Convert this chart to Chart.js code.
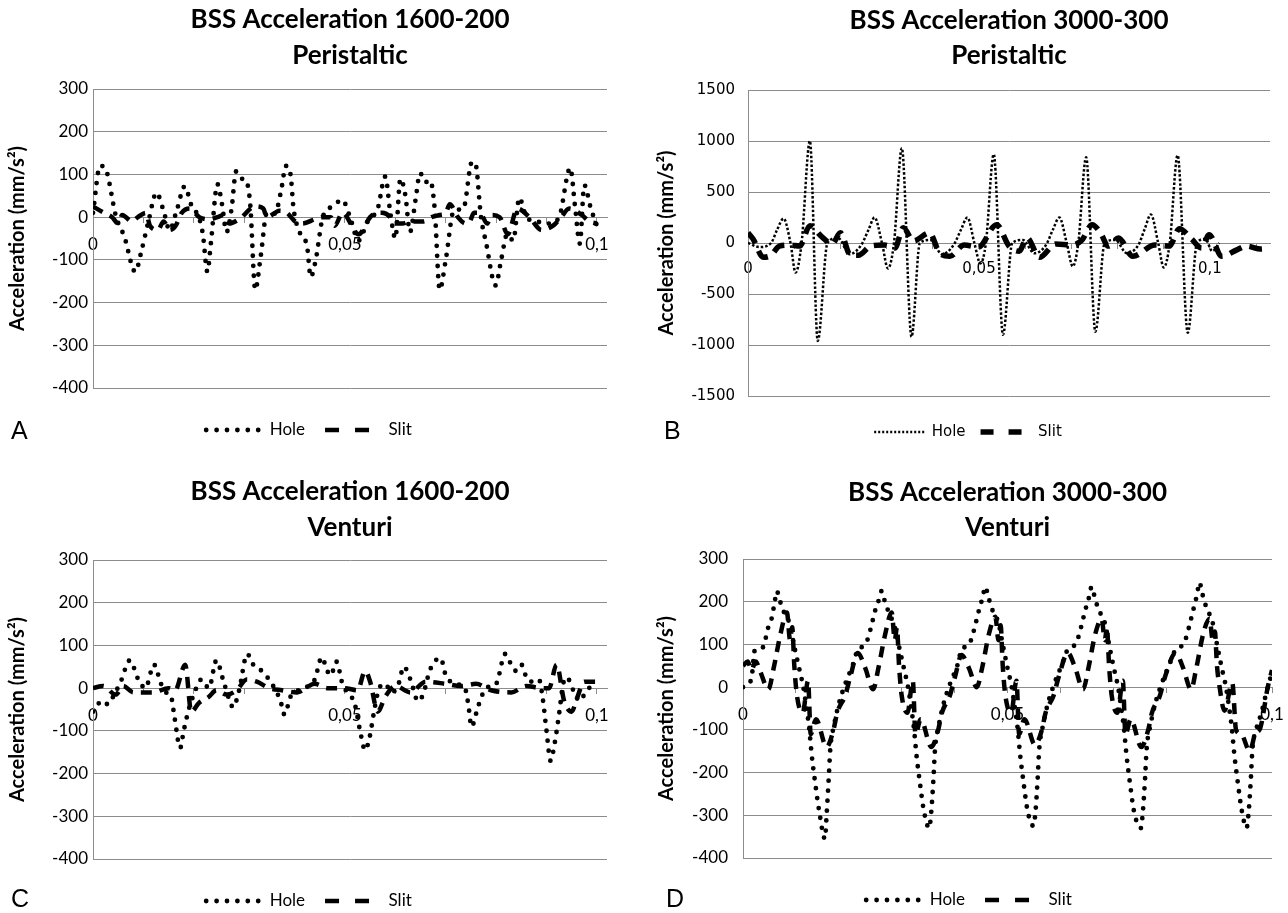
<!DOCTYPE html>
<html>
<head>
<meta charset="utf-8">
<script src="https://cdn.jsdelivr.net/npm/chart.js@4"></script>
<style>
    body { margin: 0; width: 1288px; height: 913px; overflow: hidden; background: #fff; position: relative; }
    canvas { position: absolute; }
    .tag { position: absolute; font: 25px "Liberation Sans", Arial, sans-serif; line-height: 1; color: #000; }
</style>
</head>
<body>
<canvas id="chartA" width="644" height="456" style="left:0;top:0"></canvas>
<canvas id="chartB" width="644" height="456" style="left:644px;top:1px"></canvas>
<canvas id="chartC" width="644" height="456" style="left:0;top:471px"></canvas>
<canvas id="chartD" width="644" height="456" style="left:644px;top:470px"></canvas>
<div class="tag" style="left:11px;top:418px">A</div>
<div class="tag" style="left:664px;top:418px">B</div>
<div class="tag" style="left:11px;top:886px">C</div>
<div class="tag" style="left:666px;top:886px">D</div>
<script>
// Titles
const titleA = ["BSS Acceleration 1600-200", "Peristaltic"]
const titleB = ["BSS Acceleration 3000-300", "Peristaltic"]
const titleC = ["BSS Acceleration 1600-200", "Venturi"]
const titleD = ["BSS Acceleration 3000-300", "Venturi"]
const yTitle = "Acceleration (mm/s²)"
const seriesNames = ["Hole", "Slit"]

// A - 1600-200 peristaltic (time in s, acceleration in mm/s²)
const aHoleT = [0, 0.0014, 0.0024, 0.0046, 0.0062, 0.0084, 0.0096, 0.0110, 0.0126, 0.0140, 0.0152, 0.0166, 0.0182, 0.0196, 0.0210, 0.0218, 0.0227, 0.0234, 0.0247, 0.0256, 0.0265, 0.0275, 0.0284, 0.0295, 0.0304, 0.0312, 0.0322, 0.0333, 0.0345, 0.0361, 0.0373, 0.0383, 0.0392, 0.0398, 0.0410, 0.0425, 0.0432, 0.0442, 0.0456, 0.0475, 0.0495, 0.0510, 0.0527, 0.0545, 0.0565, 0.0580, 0.0590, 0.0600, 0.0610, 0.0620, 0.0629, 0.0640, 0.0649, 0.0660, 0.0669, 0.0678, 0.0688, 0.0700, 0.0716, 0.0735, 0.0752, 0.0759, 0.0770, 0.0780, 0.0799, 0.0810, 0.0822, 0.0834, 0.0846, 0.0860, 0.0880, 0.0905, 0.0925, 0.0947, 0.0957, 0.0966, 0.0975, 0.0988, 0.1000]
const aHoleV = [10, 120, 115, 0, -45, -128, -80, -10, 57, 15, -30, 15, 72, 25, 0, -40, -128, -60, 77, 30, -35, 20, 107, 90, 85, 30, -170, -90, 10, 8, 60, 120, 100, 20, -35, -70, -140, -100, 0, 25, 40, 0, -55, -10, 20, 95, 10, -50, 90, 50, -35, 40, 103, 82, 86, 20, -170, -100, 15, 20, 129, 125, 0, -60, -160, -100, -40, -55, 45, 0, -10, -15, 0, 115, 20, -62, 75, 20, -20]
const aSlitT = [0, 0.0022, 0.0038, 0.0050, 0.0058, 0.0077, 0.0089, 0.0105, 0.0113, 0.0129, 0.0140, 0.0152, 0.0164, 0.0176, 0.0192, 0.0211, 0.0231, 0.0247, 0.0259, 0.0270, 0.0290, 0.0322, 0.0338, 0.0345, 0.0361, 0.0369, 0.0385, 0.0401, 0.0416, 0.0440, 0.0456, 0.0472, 0.0480, 0.0495, 0.0527, 0.0550, 0.0562, 0.0574, 0.0590, 0.0598, 0.0614, 0.0629, 0.0656, 0.0672, 0.0688, 0.0700, 0.0708, 0.0724, 0.0740, 0.0748, 0.0756, 0.0768, 0.0782, 0.0791, 0.0807, 0.0823, 0.0842, 0.0866, 0.0890, 0.0913, 0.0929, 0.0945, 0.0970, 0.0985, 0.1000]
const aSlitV = [25, 10, 0, -15, 5, -10, 0, 10, -20, -30, -10, -30, -20, 10, 20, 0, -5, 0, 5, -15, -5, 25, 20, 0, 10, 15, 10, -10, -15, -5, 0, 0, -20, 10, -40, 0, 10, 10, 0, -15, -15, -10, -10, 0, 5, 10, 30, 0, -15, -10, 10, 10, -15, 5, 0, -40, 20, 0, -30, -20, 0, 20, 5, -10, -15]

// B - 3000-300 peristaltic
const bHoleT = [0, 0.0025, 0.0050, 0.0063, 0.0077, 0.0092, 0.0103, 0.0116, 0.0134, 0.0151, 0.0172, 0.0195, 0.0220, 0.0245, 0.0261, 0.0274, 0.0290, 0.0303, 0.0316, 0.0333, 0.0354, 0.0372, 0.0395, 0.0420, 0.0445, 0.0461, 0.0475, 0.0490, 0.0503, 0.0515, 0.0532, 0.0552, 0.0572, 0.0595, 0.0620, 0.0645, 0.0660, 0.0674, 0.0690, 0.0703, 0.0715, 0.0732, 0.0752, 0.0772, 0.0795, 0.0820, 0.0845, 0.0859, 0.0872, 0.0888, 0.0900, 0.0913, 0.0930, 0.0952, 0.0972, 0.0990, 0.1005, 0.1020]
const bHoleV = [0, -40, 0, 130, 240, 0, -290, 0, 1000, -960, 0, 50, -110, -20, 130, 250, 0, -250, 0, 930, -920, 0, 30, -110, -20, 130, 250, 0, -200, 0, 870, -900, 0, 30, -100, -20, 130, 250, 0, -230, 0, 840, -870, 0, 30, -100, -20, 140, 280, 0, -240, 0, 860, -880, 0, 40, -80, 0]
const bSlitT = [0, 0.0011, 0.0033, 0.0050, 0.0068, 0.0090, 0.0112, 0.0134, 0.0160, 0.0182, 0.0200, 0.0222, 0.0239, 0.0266, 0.0296, 0.0318, 0.0336, 0.0358, 0.0393, 0.0415, 0.0437, 0.0468, 0.0499, 0.0538, 0.0565, 0.0587, 0.0604, 0.0631, 0.0666, 0.0701, 0.0723, 0.0745, 0.0763, 0.0780, 0.0802, 0.0833, 0.0881, 0.0912, 0.0934, 0.0960, 0.0982, 0.0998, 0.1026, 0.1057, 0.1079, 0.1110, 0.1128]
const bSlitV = [100, 40, -140, -120, -30, -20, -30, 170, 60, -10, 100, -120, -120, -30, -20, -50, 150, 20, 100, -100, -130, -20, -40, 180, -30, -80, 50, -140, -10, -20, 30, 180, 100, -30, 50, -130, -20, -30, 140, 40, -50, 80, -130, -70, -30, -60, -50]

// C - 1600-200 venturi
const cHoleT = [0, 0.0018, 0.0030, 0.0042, 0.0055, 0.0073, 0.0090, 0.0104, 0.0121, 0.0135, 0.0145, 0.0155, 0.0162, 0.0173, 0.0180, 0.0190, 0.0200, 0.0215, 0.0230, 0.0245, 0.0258, 0.0270, 0.0278, 0.0290, 0.0306, 0.0318, 0.0335, 0.0355, 0.0372, 0.0380, 0.0392, 0.0420, 0.0440, 0.0454, 0.0465, 0.0472, 0.0483, 0.0495, 0.0520, 0.0530, 0.0540, 0.0548, 0.0560, 0.0568, 0.0580, 0.0592, 0.0605, 0.0617, 0.0630, 0.0645, 0.0655, 0.0668, 0.0680, 0.0690, 0.0700, 0.0720, 0.0738, 0.0745, 0.0751, 0.0765, 0.0780, 0.0800, 0.0818, 0.0830, 0.0840, 0.0850, 0.0862, 0.0875, 0.0885, 0.0892, 0.0900, 0.0908, 0.0916, 0.0925, 0.0933, 0.0940, 0.0955, 0.0965, 0.0980, 0.1000]
const cHoleV = [-55, -30, -38, -15, 15, 65, 20, 0, 55, 10, -10, -20, -70, -140, -100, -50, -15, 20, 0, 65, 20, -25, -45, -5, 80, 55, 40, 10, -30, -62, -20, 0, 20, 72, 40, 30, 62, 10, -40, -100, -145, -120, -40, 0, 10, -10, 5, 50, 20, -30, -15, 40, 65, 70, 30, 10, 0, -40, -90, -40, 0, 10, 80, 55, 40, 55, 20, 15, 20, -20, -100, -170, -130, -60, 10, 25, -10, -30, -5, 15]
const cSlitT = [0, 0.0020, 0.0045, 0.0060, 0.0080, 0.0120, 0.0150, 0.0163, 0.0183, 0.0195, 0.0210, 0.0230, 0.0245, 0.0265, 0.0285, 0.0305, 0.0325, 0.0350, 0.0375, 0.0405, 0.0440, 0.0465, 0.0500, 0.0525, 0.0540, 0.0550, 0.0565, 0.0580, 0.0600, 0.0630, 0.0660, 0.0700, 0.0730, 0.0760, 0.0790, 0.0830, 0.0860, 0.0890, 0.0905, 0.0920, 0.0935, 0.0950, 0.0960, 0.0975, 0.1000]
const cSlitV = [0, 5, -15, 5, -10, -10, 0, -5, 55, -55, -35, -20, -5, -15, -5, 20, 15, 0, -5, -10, 10, 0, 0, -5, 40, 15, -55, -20, 5, -10, 15, 10, 5, 10, -5, -10, 5, 0, 0, 55, -30, -55, -25, 15, 15]

// D - 3000-300 venturi
const dHoleT = [0, 0.0006, 0.0016, 0.0022, 0.0035, 0.0040, 0.0047, 0.0054, 0.0060, 0.0064, 0.0069, 0.0076, 0.0089, 0.0097, 0.0106, 0.0114, 0.0119, 0.0125, 0.0130, 0.0136, 0.0144, 0.0155, 0.0158, 0.0162, 0.0165, 0.0172, 0.0181, 0.0194, 0.0207,
    0.0218, 0.0227, 0.0235, 0.0242, 0.0250, 0.0257, 0.0262, 0.0267, 0.0274, 0.0287, 0.0295, 0.0304, 0.0312, 0.0317, 0.0323, 0.0328, 0.0334, 0.0342, 0.0352, 0.0356, 0.0360, 0.0363, 0.0370, 0.0379, 0.0392, 0.0405,
    0.0414, 0.0423, 0.0431, 0.0438, 0.0446, 0.0453, 0.0458, 0.0463, 0.0470, 0.0483, 0.0491, 0.0500, 0.0508, 0.0513, 0.0519, 0.0524, 0.0530, 0.0538, 0.0549, 0.0553, 0.0557, 0.0560, 0.0567, 0.0576, 0.0589, 0.0602,
    0.0615, 0.0624, 0.0632, 0.0639, 0.0647, 0.0654, 0.0659, 0.0664, 0.0671, 0.0684, 0.0692, 0.0701, 0.0709, 0.0714, 0.0720, 0.0725, 0.0731, 0.0739, 0.0752, 0.0756, 0.0760, 0.0763, 0.0770, 0.0779, 0.0792, 0.0805,
    0.0819, 0.0828, 0.0836, 0.0843, 0.0851, 0.0858, 0.0863, 0.0868, 0.0875, 0.0888, 0.0896, 0.0905, 0.0913, 0.0918, 0.0924, 0.0929, 0.0935, 0.0943, 0.0952, 0.0956, 0.0960, 0.0963, 0.0970, 0.0980, 0.0990, 0.1000]
const dHoleV = [0, 5, 20, 85, 90, 100, 137, 160, 200, 225, 205, 180, 145, 95, 45, 0, -40, -95, -160, -220, -290, -355, -300, -215, -145, -90, -40, 10, 50,
    90, 95, 110, 140, 180, 205, 225, 205, 180, 140, 95, 45, 0, -40, -95, -160, -220, -290, -330, -290, -215, -145, -90, -40, 10, 50,
    90, 95, 110, 140, 180, 210, 235, 215, 185, 150, 100, 45, 0, -40, -95, -160, -220, -290, -325, -290, -215, -145, -90, -40, 10, 50,
    90, 95, 110, 140, 180, 210, 235, 215, 185, 150, 100, 45, 0, -40, -95, -160, -220, -290, -330, -290, -215, -145, -90, -40, 10, 50,
    90, 95, 110, 140, 180, 215, 245, 220, 190, 150, 100, 45, 0, -40, -95, -160, -220, -290, -330, -290, -215, -145, -100, -60, -10, 35]
const dSlitT = [0, 0.0009, 0.0016, 0.0024, 0.0033, 0.0048, 0.0058, 0.0071, 0.0083, 0.0089, 0.0093, 0.0097, 0.0102, 0.0113, 0.0123, 0.0128, 0.0138, 0.0158, 0.0171, 0.0178, 0.0193, 0.0203,
    0.0217, 0.0231, 0.0246, 0.0256, 0.0269, 0.0281, 0.0287, 0.0291, 0.0295, 0.0300, 0.0311, 0.0321, 0.0326, 0.0336, 0.0356, 0.0369, 0.0376, 0.0391, 0.0401,
    0.0413, 0.0427, 0.0442, 0.0452, 0.0465, 0.0477, 0.0483, 0.0487, 0.0491, 0.0496, 0.0507, 0.0517, 0.0522, 0.0532, 0.0552, 0.0565, 0.0572, 0.0587, 0.0597,
    0.0614, 0.0628, 0.0643, 0.0653, 0.0666, 0.0678, 0.0684, 0.0688, 0.0692, 0.0697, 0.0708, 0.0718, 0.0723, 0.0733, 0.0753, 0.0766, 0.0773, 0.0788, 0.0798,
    0.0818, 0.0832, 0.0847, 0.0857, 0.0870, 0.0882, 0.0888, 0.0892, 0.0896, 0.0901, 0.0910, 0.0925, 0.0932, 0.0942, 0.0958, 0.0968, 0.0978, 0.0992, 0.1000]
const dSlitV = [50, 60, 40, 60, 35, -5, 45, 125, 175, 110, 140, 50, -20, -60, 15, -110, -75, -140, -100, -60, -20, 25,
    80, 45, -5, 45, 125, 175, 110, 140, 50, -20, -60, 15, -110, -75, -140, -100, -60, -20, 25,
    75, 45, 0, 45, 125, 165, 110, 145, 50, -20, -60, 15, -110, -75, -135, -100, -60, -20, 25,
    80, 45, -5, 45, 125, 160, 110, 140, 50, -20, -60, 15, -110, -75, -140, -100, -60, -20, 25,
    80, 45, -5, 45, 125, 160, 110, 130, 50, 0, -55, 10, -100, -110, -150, -110, -95, 0, 40]

const GRID = "#8c8c8c"
const INK = "#000"

function points(ts, vs) {
    return ts.map((t, i) => ({ x: t, y: vs[i] }))
}

// tick marks every 0.01, labels only on 0, 0.05 and 0.1 (decimal comma)
function xLabel(v) {
    const k = Math.round(v * 100)
    return k % 5 === 0 ? String(k / 100).replace(".", ",") : ""
}

function makePanel(id, p) {
    return new Chart(document.getElementById(id), {
        type: "line",
        data: {
            datasets: [
                { label: seriesNames[0], data: points(p.holeT, p.holeV), ...p.hole },
                { label: seriesNames[1], data: points(p.slitT, p.slitV), ...p.slit },
            ],
        },
        options: {
            responsive: false,
            animation: false,
            events: [],
            layout: { padding: { left: p.padL, right: p.padR, top: 0, bottom: 7.5 } },
            elements: {
                point: { radius: 0 },
                line: { cubicInterpolationMode: "monotone", fill: false, borderColor: INK },
            },
            plugins: {
                tooltip: { enabled: false },
                title: {
                    display: true,
                    text: p.title,
                    color: INK,
                    fullSize: false,
                    font: { family: "Lato", size: 26, weight: "bold", lineHeight: 1.35 },
                    padding: { top: p.titleTop, bottom: 89 - 70.2 - p.titleTop },
                },
                legend: {
                    position: "bottom",
                    title: { display: true, text: "", font: { size: 1, lineHeight: 1 }, padding: { top: 12.5, bottom: 0 } },
                    labels: {
                        color: INK,
                        font: p.legendFont,
                        padding: p.legendGap,
                        usePointStyle: true,
                        pointStyleWidth: p.symbolWidth,
                        generateLabels: (chart) =>
                            chart.data.datasets.map((ds, i) => ({
                                text: ds.label,
                                datasetIndex: i,
                                hidden: false,
                                pointStyle: "line",
                                lineWidth: ds.borderWidth,
                                lineCap: ds.borderCapStyle,
                                lineDash: ds.legendDash,
                                strokeStyle: INK,
                                fillStyle: INK,
                                fontColor: INK,
                            })),
                    },
                },
            },
            scales: {
                x: {
                    type: "linear",
                    position: { y: 0 },
                    min: 0,
                    max: p.xMax,
                    afterFit: (s) => {
                        s.paddingLeft = 0
                        s.paddingRight = 0
                    },
                    ticks: {
                        stepSize: 0.01,
                        autoSkip: false,
                        includeBounds: false,
                        maxRotation: 0,
                        padding: 12,
                        color: INK,
                        font: p.tickFont,
                        callback: xLabel,
                    },
                    grid: { drawOnChartArea: false, drawTicks: true, tickLength: 5, color: GRID },
                    border: { display: true, color: GRID },
                },
                y: {
                    min: p.yMin,
                    max: p.yMax,
                    afterFit: (s) => {
                        s.width = p.yWidth
                    },
                    ticks: { stepSize: p.yStep, padding: p.yTickPad, color: INK, font: p.tickFont, callback: (v) => String(v) },
                    grid: { color: GRID, drawTicks: false },
                    border: { display: true, color: GRID },
                    title: {
                        display: true,
                        text: yTitle,
                        color: INK,
                        font: { family: "Lato", size: 20, weight: "bold", lineHeight: 1.2 },
                        padding: { top: p.yTitlePad, bottom: 0 },
                    },
                },
            },
        },
    })
}

const roundDots = { borderWidth: 4.8, borderDash: [0, 10], borderCapStyle: "round", legendDash: [0, 10.4] }
const longDash = { borderWidth: 4.5, borderDash: [11, 8], borderCapStyle: "butt", legendDash: [14, 16] }
const calibriTicks = { family: "Lato", size: 17 }

makePanel("chartA", {
    title: titleA, holeT: aHoleT, holeV: aHoleV, slitT: aSlitT, slitV: aSlitV,
    hole: roundDots, slit: longDash, titleTop: 2.5,
    padL: 11, padR: 37, yWidth: 82, yTitlePad: -5, yTickPad: 5,
    yMin: -400, yMax: 300, yStep: 100, xMax: 0.102,
    tickFont: calibriTicks, legendFont: calibriTicks, legendGap: 20, symbolWidth: 55,
})

makePanel("chartB", {
    title: titleB, holeT: bHoleT, holeV: bHoleV, slitT: bSlitT, slitV: bSlitV,
    hole: { borderWidth: 2.5, borderDash: [2.5, 2], borderCapStyle: "butt", legendDash: [2, 2] },
    slit: { borderWidth: 5.5, borderDash: [13, 8], borderCapStyle: "butt", legendDash: [13, 15] },
    titleTop: 2,
    padL: 22, padR: 18, yWidth: 82, yTitlePad: -11, yTickPad: 13,
    yMin: -1500, yMax: 1500, yStep: 500, xMax: 0.113,
    tickFont: { family: "DejaVu Sans", size: 15 }, legendFont: { family: "DejaVu Sans", size: 15 },
    legendGap: 15, symbolWidth: 50,
})

makePanel("chartC", {
    title: titleC, holeT: cHoleT, holeV: cHoleV, slitT: cSlitT, slitV: cSlitV,
    hole: roundDots, slit: longDash, titleTop: 3.5,
    padL: 11, padR: 37, yWidth: 82, yTitlePad: -5, yTickPad: 5,
    yMin: -400, yMax: 300, yStep: 100, xMax: 0.102,
    tickFont: calibriTicks, legendFont: calibriTicks, legendGap: 20, symbolWidth: 55,
})

makePanel("chartD", {
    title: titleD, holeT: dHoleT, holeV: dHoleV, slitT: dSlitT, slitV: dSlitV,
    hole: roundDots, slit: longDash, titleTop: 5,
    padL: 22, padR: 16, yWidth: 77, yTitlePad: -11, yTickPad: 15,
    yMin: -400, yMax: 300, yStep: 100, xMax: 0.1,
    tickFont: calibriTicks, legendFont: calibriTicks, legendGap: 20, symbolWidth: 55,
})
</script>
</body>
</html>
